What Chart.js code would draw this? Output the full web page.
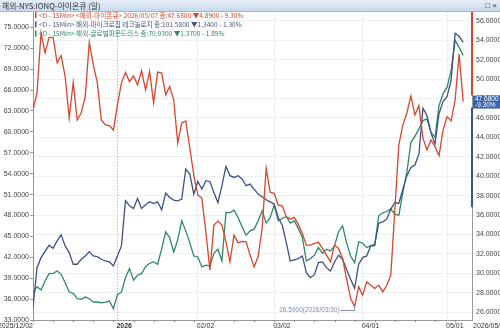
<!DOCTYPE html>
<html>
<head>
<meta charset="utf-8">
<script src="https://cdn.jsdelivr.net/npm/chart.js@4"></script>
<style>
  body { margin: 0; background: #fff; }
  canvas { display: block; }
</style>
</head>
<body>
<canvas id="chart" width="500" height="331"></canvas>
<script>
// 일봉, 2025/12/02 ~ 2026/05/07 (거래일 인덱스 0..107)
const ionqVals = [
  46.82, 48.58, 54.76, 52.70, 54.28, 54.28, 51.67, 52.42, 50.26, 46.00,
  49.64, 45.79, 46.52, 48.20, 53.76, 51.46, 49.61, 45.79, 45.28, 45.21,
  44.76, 47.34, 49.61, 50.67, 49.74, 50.33, 49.40, 50.85, 48.89, 50.77,
  47.55, 50.71, 50.61, 48.37, 49.23, 47.86, 43.42, 45.48, 45.69, 42.91,
  40.12, 38.06, 37.75, 34.28, 30.33, 34.97, 35.38, 34.97, 33.25, 31.19,
  33.94, 33.14, 33.30, 33.25, 31.88, 30.67, 31.70, 34.66, 40.81, 38.34,
  38.24, 37.03, 36.96, 35.82, 35.59, 35.76, 35.04, 34.11, 32.91, 32.91,
  33.08, 33.19, 32.57, 31.88, 31.19, 32.91, 32.57, 31.54, 29.47, 27.41,
  26.59, 28.61, 27.75, 29.12, 28.78, 28.44, 28.78, 28.09, 28.78, 29.81,
  null, 43.22, 45.28, 46.48, 48.27, 46.31, 47.27, 43.91, 42.70, 43.73,
  43.04, 42.11, 44.76, 46.13, 45.69, 47.86, 52.57, 47.68
];
const mchpVals = [
  34.76, 40.51, 41.95, null, 43.73, 43.30, 44.35, 45.22, 43.63, 42.67,
  41.00, 41.00, 41.72, 42.19, 42.81, 42.19, 42.09, 41.72, 41.47, 41.33,
  40.76, 42.19, 43.63, 50.11, 49.39, 49.00, 50.44, 49.00, 49.53, 49.96,
  49.72, 49.96, 48.81, 51.22, 50.58, 50.21, 50.11, 50.35, 54.67, 53.95,
  51.07, 52.88, 51.79, 52.99, 52.88, 51.30, 49.86, 52.27, 55.04, 53.71,
  53.46, 53.71, 53.23, 52.27, 52.51, 51.79, 51.07, 50.68, 50.25, 49.96,
  49.63, 47.71, 46.61, 44.11, 41.47, 41.62, 41.81, 42.19, 39.79, 39.07,
  39.50, 41.23, 41.33, 40.51, 40.04, 41.33, 42.29, 41.72, 40.28, 38.84,
  37.55, 41.00, 41.95, 42.19, 43.63, 43.88, 46.90, 47.09, 47.47, 48.91,
  49.86, 49.72, 51.79, 53.71, 54.90, 55.24, 56.83, 63.39, 62.34, 59.85,
  58.27, 62.63, 64.35, 65.07, 67.37, 74.14, 73.71, 72.84
];
const gfsVals = [
  36.91, 37.78, 37.30, 38.60, 39.65, 39.70, 40.04, 39.56, 38.35, 37.01,
  36.83, 36.05, 35.96, 36.29, 36.05, 35.58, 35.58, 35.47, 35.58, 35.72,
  34.61, 36.68, 37.01, 39.07, 40.37, 38.70, 39.42, 39.65, 40.65, 41.14,
  41.33, 41.00, 43.16, 45.65, 44.83, 42.77, 44.50, 47.23, 45.79, 44.11,
  42.19, 42.05, 40.61, 40.86, 40.76, 42.58, 43.16, 41.47, 48.42, 48.42,
  48.77, 47.71, 46.40, 45.17, 45.79, 46.04, 47.23, 48.67, 46.90, 47.71,
  49.49, 47.23, 47.56, 47.85, 46.90, 47.23, 46.12, 44.83, 41.47, 41.81,
  42.30, 43.39, 42.58, 43.16, 42.91, 43.63, 45.65, 46.51, 44.11, 42.19,
  41.23, 44.21, 44.02, 43.39, 43.63, 43.63, 47.95, 48.38, 48.57, 48.96,
  48.19, 48.05, 51.30, 54.18, 58.50, 59.36, 60.42, 61.62, 61.86, 59.94,
  59.22, 63.78, 65.46, 66.41, 68.81, 73.13, 72.12, 70.97
];

// 축 눈금
const tickDays = [0, 21, 41, 60, 82, 103];
const tickText = ['2025/12/02', '2026', '02/02', '03/02', '04/01', '05/01'];
const lastDateText = '2026/05/07';
const leftTicks = [33, 36, 39, 42, 45, 48, 51, 54, 57, 60, 63, 66, 69, 72, 75];
const rightTicks = [26, 28, 30, 32, 34, 36, 38, 40, 42, 44, 46, 48, 50, 52, 54, 56];

// 범례 / 표시값
const legendLines = [
  '<D - 15Min> <해외-아이온큐> 2026/05/07 종:47.6800 ▼4.8900 - 9.30%',
  '<D - 15Min> 해외-마이크로칩 테크놀로지 종:101.5800 ▼1.3400 - 1.30%',
  '<D - 15Min> 해외-글로벌파운드리스 종:70.9300 ▼1.3700 - 1.89%'
];
const titleText = '해외-NYS:IONQ-아이온큐 (일)';
const lastPrice = 47.68;
const lastChange = '-9.30%';
const lowDay = 80, lowPrice = 26.59, lowText = '26.5900(2026/03/30)';
const rangeLow = 36.8;  // 오른쪽 축 파란 구간 하단

const RED = '#d4472f', BLUE = '#3d5184', GREEN = '#2f8a66';
const FONT = '"Liberation Sans", Arial, sans-serif';
const KFONT = '"Noto Sans CJK KR", sans-serif';

const toPts = vals => vals.map((v, i) => ({ x: i, y: v }));

// 제목줄, 범례, x축 라벨 등 직접 그리기
const decorPlugin = {
  id: 'decor',
  beforeDraw(chart) {
    const ctx = chart.ctx;
    ctx.save();
    ctx.fillStyle = '#fff';
    ctx.fillRect(0, 0, chart.width, chart.height);
    const g = ctx.createLinearGradient(0, 0, 0, 11);
    g.addColorStop(0, '#e6eef8');
    g.addColorStop(1, '#c8d9ec');
    ctx.fillStyle = g;
    ctx.fillRect(0, 0, chart.width, 11);
    ctx.fillStyle = '#9fb6d0';
    ctx.fillRect(0, 11, chart.width, 1);
    ctx.fillStyle = '#333';
    ctx.font = '7.8px ' + KFONT;
    ctx.textBaseline = 'middle';
    ctx.textAlign = 'left';
    ctx.fillText(titleText, 2, 6);
    ctx.textAlign = 'right';
    ctx.font = '8px ' + FONT;
    ctx.fillText('□ ×', 497, 6);
    ctx.restore();
  },
  beforeDatasetsDraw(chart) {
    const ctx = chart.ctx, x = chart.scales.x, a = chart.chartArea;
    ctx.save();
    ctx.strokeStyle = '#e8a0a0';
    ctx.setLineDash([1, 2]);
    ctx.lineWidth = 1;
    const px = Math.round(x.getPixelForValue(tickDays[1])) + 0.5;
    ctx.beginPath();
    ctx.moveTo(px, a.top);
    ctx.lineTo(px, a.bottom);
    ctx.stroke();
    ctx.restore();
  },
  afterDraw(chart) {
    const ctx = chart.ctx, x = chart.scales.x, yR = chart.scales.yR, a = chart.chartArea;
    ctx.save();

    // 범례
    const cols = [RED, '#4a5578', GREEN];
    ctx.font = '6.6px ' + KFONT;
    ctx.textBaseline = 'middle';
    ctx.textAlign = 'left';
    legendLines.forEach((t, i) => {
      const y = 15 + i * 9.3;
      ctx.fillStyle = cols[i];
      ctx.fillRect(a.left + 2, y - 3, 1.5, 6);
      ctx.fillText(t, a.left + 6, y);
    });

    // x축 라벨
    ctx.fillStyle = '#333';
    const ly = a.bottom + 6;
    tickDays.forEach((d, i) => {
      const px = x.getPixelForValue(d);
      ctx.font = (i === 1 ? 'bold ' : '') + '7px ' + FONT;
      ctx.textAlign = i === 0 ? 'right' : 'left';
      ctx.fillText(tickText[i], i === 0 ? px : px - 1, ly);
    });
    ctx.font = '7px ' + FONT;
    ctx.textAlign = 'left';
    ctx.fillText(lastDateText, a.right + 1, ly);

    // x축 작은 눈금
    ctx.strokeStyle = '#888';
    ctx.lineWidth = 1;
    ctx.beginPath();
    for (let d = 0; d <= 107; d += 5) {
      const px = Math.round(x.getPixelForValue(d)) + 0.5;
      ctx.moveTo(px, a.bottom);
      ctx.lineTo(px, a.bottom + 2);
    }
    ctx.stroke();

    // 최저가 표시
    const mx = x.getPixelForValue(lowDay), my = yR.getPixelForValue(lowPrice);
    const lineY = Math.round(my + 4) + 0.5;
    ctx.strokeStyle = '#7f8fb0';
    ctx.beginPath();
    ctx.moveTo(mx - 14, lineY);
    ctx.lineTo(mx, lineY);
    ctx.lineTo(mx, my);
    ctx.stroke();
    ctx.fillStyle = '#7f8fb0';
    ctx.font = '6.5px ' + FONT;
    ctx.textAlign = 'right';
    ctx.fillText(lowText, mx - 15, lineY);

    // 오른쪽 축 색 구간
    const py = yR.getPixelForValue(lastPrice);
    ctx.lineWidth = 2;
    ctx.strokeStyle = RED;
    ctx.beginPath();
    ctx.moveTo(a.right, a.top);
    ctx.lineTo(a.right, py - 6);
    ctx.stroke();
    ctx.strokeStyle = BLUE;
    ctx.beginPath();
    ctx.moveTo(a.right, py + 6);
    ctx.lineTo(a.right, yR.getPixelForValue(rangeLow));
    ctx.stroke();

    // 현재가 박스
    ctx.fillStyle = '#3b64ad';
    ctx.fillRect(a.right + 1, py - 6, chart.width - a.right - 1, 13);
    ctx.fillStyle = '#fff';
    ctx.font = '6.5px ' + FONT;
    ctx.textAlign = 'left';
    ctx.fillText(lastPrice.toFixed(4), a.right + 3, py - 2);
    ctx.fillText(lastChange, a.right + 3, py + 4);
    ctx.restore();
  }
};

new Chart(document.getElementById('chart'), {
  type: 'line',
  data: {
    datasets: [
      { label: '아이온큐', data: toPts(ionqVals), yAxisID: 'yR', borderColor: RED },
      { label: '마이크로칩 테크놀로지', data: toPts(mchpVals), yAxisID: 'yL', borderColor: BLUE },
      { label: '글로벌파운드리스', data: toPts(gfsVals), yAxisID: 'yL', borderColor: GREEN }
    ]
  },
  options: {
    responsive: false,
    animation: false,
    devicePixelRatio: 1,
    spanGaps: true,
    elements: {
      line: { borderWidth: 1.3, tension: 0 },
      point: { radius: 0 }
    },
    layout: { padding: { top: 12 } },
    plugins: {
      legend: { display: false },
      tooltip: { enabled: false }
    },
    scales: {
      x: {
        type: 'linear',
        min: 0,
        max: 109.2,
        afterBuildTicks: s => { s.ticks = tickDays.map(v => ({ value: v })); },
        afterFit: s => { s.height = 11; },
        ticks: { display: false },
        grid: { color: '#efefef', tickLength: 0 },
        border: { color: '#999' }
      },
      yL: {
        position: 'left',
        min: 33,
        max: 77.2,
        afterBuildTicks: s => { s.ticks = leftTicks.map(v => ({ value: v })); },
        afterFit: s => { s.width = 33; },
        ticks: {
          font: { family: FONT, size: 7 },
          color: '#444',
          padding: 1,
          callback: v => v.toFixed(4)
        },
        grid: { drawOnChartArea: false, tickLength: 3, color: '#999' },
        border: { color: '#999' }
      },
      yR: {
        position: 'right',
        min: 25.2,
        max: 56.9,
        afterBuildTicks: s => { s.ticks = rightTicks.map(v => ({ value: v })); },
        afterFit: s => { s.width = 28; },
        ticks: {
          font: { family: FONT, size: 7 },
          color: '#444',
          padding: 1,
          callback: v => v.toFixed(4)
        },
        grid: { color: '#f0f0f0', tickLength: 3 },
        border: { color: '#999' }
      }
    }
  },
  plugins: [decorPlugin]
});
</script>
</body>
</html>
